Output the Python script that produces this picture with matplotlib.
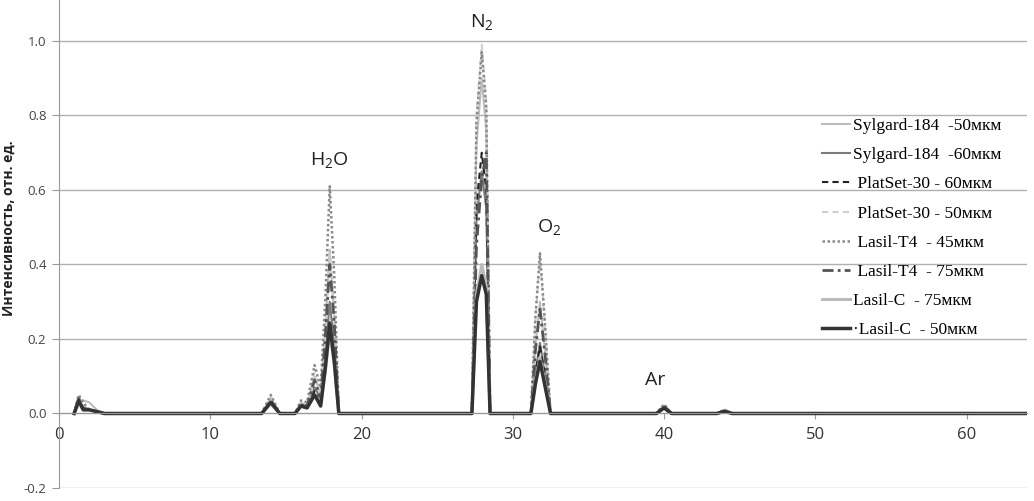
import matplotlib
matplotlib.use("Agg")
import matplotlib.pyplot as plt

plt.rcParams.update({
    "font.family": "Open Sans",
    "mathtext.fontset": "custom",
    "mathtext.rm": "Open Sans",
    "mathtext.it": "Open Sans",
})

# m/z sample points shared by all series
mz = [1.0, 1.3, 1.6, 2.0, 2.5, 3.0,
      13.4, 14.0, 14.6, 15.2,
      15.6, 16.0, 16.4, 16.9, 17.3, 17.6, 17.9, 18.2, 18.5, 19.0,
      27.3, 27.6, 27.95, 28.25, 28.5, 29.0,
      31.2, 31.5, 31.8, 32.1, 32.5, 33.0,
      39.5, 40.0, 40.5,
      43.5, 44.0, 44.5,
      64.0]

sylgard_50 = [0, 0.02, 0.035, 0.03, 0.01, 0,
              0, 0.04, 0, 0,
              0, 0.03, 0.02, 0.10, 0.05, 0.22, 0.44, 0.26, 0, 0,
              0, 0.72, 0.90, 0.76, 0, 0,
              0, 0.18, 0.30, 0.18, 0, 0,
              0, 0.02, 0, 0, 0.01, 0, 0]
sylgard_60 = [0, 0.03, 0.01, 0.01, 0.005, 0,
              0, 0.03, 0, 0,
              0, 0.02, 0.015, 0.07, 0.04, 0.15, 0.30, 0.18, 0, 0,
              0, 0.52, 0.65, 0.55, 0, 0,
              0, 0.11, 0.19, 0.11, 0, 0,
              0, 0.015, 0, 0, 0.008, 0, 0]
platset_60 = [0, 0.04, 0.01, 0.01, 0.005, 0,
              0, 0.03, 0, 0,
              0, 0.025, 0.015, 0.06, 0.03, 0.12, 0.25, 0.15, 0, 0,
              0, 0.56, 0.70, 0.60, 0, 0,
              0, 0.11, 0.18, 0.11, 0, 0,
              0, 0.015, 0, 0, 0.008, 0, 0]
platset_50 = [0, 0.05, 0.02, 0.01, 0.005, 0,
              0, 0.045, 0, 0,
              0, 0.03, 0.02, 0.11, 0.05, 0.21, 0.43, 0.26, 0, 0,
              0, 0.80, 0.99, 0.84, 0, 0,
              0, 0.25, 0.42, 0.25, 0, 0,
              0, 0.025, 0, 0, 0.01, 0, 0]
lasil_t4_45 = [0, 0.05, 0.03, 0.01, 0.005, 0,
               0, 0.05, 0, 0,
               0, 0.035, 0.03, 0.13, 0.07, 0.30, 0.61, 0.37, 0, 0,
               0, 0.78, 0.97, 0.82, 0, 0,
               0, 0.26, 0.43, 0.26, 0, 0,
               0, 0.025, 0, 0, 0.01, 0, 0]
lasil_t4_75 = [0, 0.04, 0.015, 0.01, 0.005, 0,
               0, 0.035, 0, 0,
               0, 0.025, 0.02, 0.09, 0.04, 0.20, 0.40, 0.24, 0, 0,
               0, 0.45, 0.63, 0.70, 0, 0,
               0, 0.17, 0.28, 0.17, 0, 0,
               0, 0.02, 0, 0, 0.008, 0, 0]
lasil_c_75 = [0, 0.03, 0.01, 0.01, 0.005, 0,
              0, 0.025, 0, 0,
              0, 0.02, 0.015, 0.05, 0.03, 0.11, 0.22, 0.13, 0, 0,
              0, 0.32, 0.40, 0.34, 0, 0,
              0, 0.09, 0.15, 0.09, 0, 0,
              0, 0.015, 0, 0, 0.006, 0, 0]
lasil_c_50 = [0, 0.035, 0.01, 0.01, 0.005, 0,
              0, 0.03, 0, 0,
              0, 0.02, 0.015, 0.05, 0.02, 0.12, 0.24, 0.14, 0, 0,
              0, 0.30, 0.37, 0.32, 0, 0,
              0, 0.08, 0.14, 0.08, 0, 0,
              0, 0.015, 0, 0, 0.006, 0, 0]

labels = ["Sylgard-184  -50мкм", "Sylgard-184  -60мкм", " PlatSet-30 - 60мкм",
          " PlatSet-30 - 50мкм", " Lasil-T4  - 45мкм", " Lasil-T4  - 75мкм",
          "Lasil-C  - 75мкм", "·Lasil-C  - 50мкм"]
series = [sylgard_50, sylgard_60, platset_60, platset_50,
          lasil_t4_45, lasil_t4_75, lasil_c_75, lasil_c_50]

styles = [
    dict(color="#bdbdbd", lw=1.5, ls="-"),
    dict(color="#7a7a7a", lw=1.5, ls="-"),
    dict(color="#222222", lw=1.5, ls=(0, (3, 2))),
    dict(color="#cfcfcf", lw=1.5, ls=(0, (3, 2))),
    dict(color="#8a8a8a", lw=1.8, ls=(0, (1, 1))),
    dict(color="#555555", lw=2.0, ls=(0, (4, 1.5, 1, 1.5))),
    dict(color="#bbbbbb", lw=2.2, ls="-"),
    dict(color="#333333", lw=2.5, ls="-"),
]

peak_names = ["H$_2$O", "N$_2$", "O$_2$", "Ar"]
peak_x = [17.9, 27.95, 32.4, 39.4]
peak_y = [0.68, 1.05, 0.50, 0.089]

fig = plt.figure(figsize=(10.34, 5.01), dpi=100)
ax = fig.add_axes([59 / 1034, 13 / 501, 968 / 1034, 488 / 501])

for ys, lab, st in zip(series, labels, styles):
    ax.plot(mz, ys, label=lab, **st)

for name, px, py in zip(peak_names, peak_x, peak_y):
    ax.text(px, py, name, ha="center", va="center", fontsize=14, color="#222222")

ax.set_xlim(0, 64)
ax.set_ylim(-0.2, 1.11)
ax.set_xticks([0, 10, 20, 30, 40, 50, 60])
ax.set_yticks([-0.2, 0.0, 0.2, 0.4, 0.6, 0.8, 1.0])
ax.set_yticklabels(["-0.2", "0.0", "0.2", "0.4", "0.6", "0.8", "1.0"])
ax.yaxis.grid(True, color="#b0b0b0", lw=1)
ax.set_axisbelow(True)

for s in ["top", "right"]:
    ax.spines[s].set_visible(False)
ax.spines["bottom"].set_position(("data", 0))
ax.spines["bottom"].set_color("#999999")
ax.spines["left"].set_color("#999999")
ax.tick_params(axis="x", labelsize=12, colors="#999999", labelcolor="#333333",
               length=4, pad=6)
ax.tick_params(axis="y", labelsize=9.5, colors="#999999", labelcolor="#444444",
               length=5, pad=4)

ax.set_ylabel("Интенсивность, отн. ед.", fontsize=10, fontweight="bold", color="#222222")
ax.yaxis.set_label_coords(-0.045, 0.533)

ax.legend(loc="upper left", bbox_to_anchor=(822 / 1034, 1 - 118 / 501),
          bbox_transform=fig.transFigure, frameon=False,
          prop={"family": "Liberation Serif", "size": 12.5},
          handlelength=1.6, handletextpad=0.2, labelspacing=0.75,
          borderpad=0, borderaxespad=0)

fig.savefig("out.png", dpi=100, facecolor="white")
